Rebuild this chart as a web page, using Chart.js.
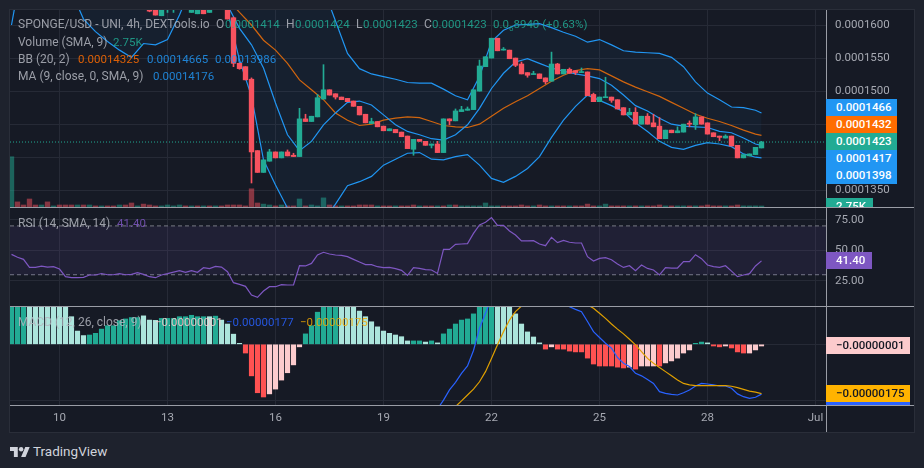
<!DOCTYPE html>
<html><head><meta charset="utf-8">
<script src="https://cdn.jsdelivr.net/npm/chart.js@4/dist/chart.umd.js"></script>
<style>
html,body{margin:0;padding:0;background:#1e222d;width:924px;height:468px;overflow:hidden;font-family:Roboto,sans-serif;}
#panel{position:absolute;left:9px;top:9px;width:904px;height:422px;background:#161a25;border:1px solid #2a2e39;}
canvas{position:absolute;left:10px;}
.sep{position:absolute;background:#9a9da6;}
.t{position:absolute;font-size:11.5px;line-height:14px;white-space:nowrap;color:#b2b5be;opacity:.85;z-index:5;}
.l{font-size:12px;}
.tag{position:absolute;left:826px;height:17px;line-height:17px;padding-left:10px;box-sizing:border-box;font-size:11.5px;font-weight:500;color:#fff;z-index:6;overflow:hidden;}
sub{font-size:8px;line-height:0;}
</style></head><body>
<div id="panel"></div>
<canvas id="cPrice" width="904" height="197" style="top:10px;width:904px;height:197px"></canvas>
<canvas id="cRsi" width="904" height="99" style="top:207px;width:904px;height:99px"></canvas>
<canvas id="cMacd" width="904" height="126" style="top:306px;width:904px;height:126px"></canvas>
<div class="sep" style="left:10px;top:207px;width:904px;height:1px"></div>
<div class="sep" style="left:10px;top:306px;width:904px;height:1px"></div>
<div class="sep" style="left:10px;top:405px;width:904px;height:1px"></div>
<div class="sep" style="left:826px;top:10px;width:1px;height:422px"></div>
<div id="overlay"></div>
<svg style="position:absolute;left:10px;top:445px" width="20" height="14" viewBox="0 3 36 20"><path fill="#d1d4dc" d="M14 22H7V11H0V4h14v18zM28 22h-8l7.5-18h8L28 22z"/><circle fill="#d1d4dc" cx="20" cy="8" r="4"/></svg>
<div style="position:absolute;left:33px;top:443px;font-size:13.5px;line-height:17px;color:#d1d4dc">TradingView</div>
<script>
// x positions are bar numbers (one bar = 4h)
const tickIdx=[8,26,44,62,80,98,116,134];
const tickLabels=['10','13','16','19','22','25','28','Jul'];
const priceTicks=[1600,1550,1500,1450,1400,1350];
const priceTicksHidden=[1450,1400];
const rsiTicks=[75,50,25];
const macdTicks=[0,-200];
// prices are in units of 0.0000001; candles start at bar 23 (earlier ones sit above the visible range)
const candleStart=23;
const open=[1640,1630,1614,1630,1630,null,null,1619,1617,1630,1619,null,null,
1640,1611,1542,1537,1518,1410,1377,1394,1408,1399,1408,1403,1401,1458,1454,1461,1488,1502,1496,1491,1489,1485,1477,1465,1451,1454,1447,1440,1442,1438,1432,1412,1427,1424,1418,1420,1407,1458,1455,1469,1471,1472,1500,1537,1550,1580,1562,1562,1550,1541,1528,1525,1526,1520,1515,1541,1526,1533,1531,1528,1529,1495,1484,1490,1491,1487,1475,1464,1468,1450,1462,1452,1447,1428,1441,1437,1438,1451,1449,1461,1452,1437,1432,1429,1432,1418,1399,1402,1404,1414];
const close=[1621,1615,1630,1632,1632,null,null,1630,1630,1617,1630,null,null,
1609,1542,1534,1517,1408,1377,1396,1408,1399,1408,1402,1401,1458,1454,1462,1490,1502,1494,1491,1487,1484,1477,1464,1452,1454,1446,1440,1443,1437,1431,1413,1427,1424,1418,1420,1407,1458,1455,1470,1472,1473,1502,1538,1552,1580,1561,1563,1549,1539,1526,1524,1526,1519,1514,1541,1526,1533,1527,1528,1529,1493,1484,1491,1491,1486,1473,1464,1468,1450,1462,1450,1446,1428,1441,1437,1440,1450,1450,1461,1450,1435,1431,1430,1432,1417,1399,1404,1405,1415,1423];
const high=[1640,1635,1630,1632,1632,null,null,1630,1630,1630,1630,null,null,
1640,1612,1543,1537,1520,1410,1396,1412,1408,1408,1411,1406,1474,1465,1462,1495,1540,1502,1496,1491,1489,1485,1477,1465,1459,1454,1447,1443,1442,1438,1432,1427,1427,1424,1420,1424,1458,1458,1473,1477,1476,1502,1547,1552,1580,1580,1566,1562,1550,1544,1528,1530,1526,1520,1559,1542,1533,1535,1531,1535,1529,1497,1491,1521,1491,1487,1475,1474,1475,1462,1466,1465,1460,1441,1441,1446,1450,1455,1466,1461,1452,1437,1432,1434,1432,1418,1404,1405,1415,1424];
const low=[1620,1615,1614,1619,1619,null,null,1619,1617,1617,1619,null,null,
1609,1537,1533,1517,1361,1377,1377,1394,1399,1399,1402,1401,1401,1454,1454,1461,1488,1494,1488,1487,1484,1477,1464,1452,1451,1446,1440,1440,1437,1431,1413,1403,1424,1418,1414,1407,1407,1449,1455,1469,1471,1472,1500,1537,1550,1561,1562,1549,1537,1526,1521,1525,1519,1511,1515,1526,1526,1527,1525,1528,1493,1484,1484,1490,1483,1473,1464,1464,1450,1450,1450,1446,1428,1428,1437,1437,1438,1446,1442,1450,1435,1431,1425,1429,1417,1399,1399,1402,1404,1414];
// volume in thousands and its colour: g rising, r falling
const volume=[138,14,5.5,22,5.5,5.5,14,3,5.5,5.5,5.5,5.5,5.5,5.5,3,3,3,3,5.5,5.5,11,3,8,5.5,3,3,5.5,3,5.5,3,3,3,3,3,3,3,5.5,5.5,5.5,3,50,11,8,5.5,3,5.5,3,3,22,3,5.5,3,25,5.5,3,3,3,3,5.5,5.5,5.5,3,3,3,3,3,3,5.5,3,3,3,3,3,5.5,5.5,3,3,3,3,11,3,3,3,3,3,5.5,3,3,5.5,3,3,3,3,3,3,3,8,3,3,8,3,3,3,3,3,3,3,3,5.5,3,3,3,3,3,3,3,5.5,3,3,3,3,5.5,3,3,3,2.75];
const volumeTone=['g','rrrr','g','r','g','rrr','g','r','g','r','g','rr','g','rr','g','rrr','gggg','r','g','r','g','r','g','rrrrrrr','gg','r','g','rr','g','r','ggg','rr','g','rrrrr','g','rr','g','rrr','g','rr','g','r','g','r','ggggggg','rrrrr','g','rr','g','rr','g','rrrr','gg','rrr','g','r','g','rrr','g','r','gg','r','g','rrrr','g','rr','gggg'].join('');
// Bollinger bands and moving average: values read at bars 0,2,4...124 and 125
const bbLower=[1600,1700,1710,1710,1700,1650,1609,1590,1575,1562,1551,1572,1570,1578,1615,1660,1680,1660,1622,1547,1492,1396,1358,1323,1295,1290,1305,1329,1357,1363,1371,1388,1397,1406,1407,1397,1396,1401,1404,1388,1368,1362,1371,1383,1401,1430,1456,1477,1494,1486,1478,1469,1452,1439,1424,1415,1412,1418,1422,1420,1416,1405,1400,1399];
const bbUpper=[1780,1780,1780,1780,1780,1780,1780,1780,1780,1780,1780,1780,1780,1780,1780,1780,1780,1780,1780,1780,1780,1780,1780,1780,1780,1710,1655,1606,1557,1534,1526,1522,1518,1513,1512,1512,1503,1493,1487,1522,1575,1592,1600,1601,1602,1596,1589,1583,1574,1578,1570,1561,1559,1558,1557,1551,1537,1514,1497,1487,1476,1475,1471,1467];
const bbBasis=[null,null,null,null,null,null,null,null,null,null,null,null,null,null,null,null,null,1690,1640,1619,1600,1577,1562,1542,1517,1502,1487,1467,1456,1448,1450,1456,1459,1461,1460,1454,1448,1446,1445,1450,1462,1474,1484,1493,1504,1515,1524,1531,1534,1532,1523,1514,1506,1499,1492,1483,1474,1465,1459,1454,1448,1441,1435,1433];
const ma9=[null,null,null,null,null,null,null,null,null,null,null,null,null,null,null,null,null,1680,1630,1595,1570,1535,1482,1434,1410,1424,1449,1467,1483,1485,1479,1464,1449,1439,1434,1428,1426,1434,1449,1474,1504,1527,1544,1549,1542,1535,1530,1526,1523,1519,1509,1494,1478,1470,1459,1450,1447,1446,1445,1439,1437,1429,1420,1418];
const rsi=[46.7,44.3,42.6,36,36,37,36.3,36.6,34.7,28.4,27.6,27.6,27.9,29.8,29.8,31,30,30,30.9,30,30.3,31.7,30.3,28.4,27.6,29.8,30.9,32.2,33.3,32,33.3,32,35.8,35,36.9,36.3,32.5,23.5,22.1,20.5,13.4,11.5,16.7,20.2,20.2,21.9,21.6,21.6,37.4,37.2,39.3,46.2,48.4,47,46.2,45.9,44.8,42.6,40.4,38.3,38.3,36.6,35.8,36,35,33.6,29.5,35.8,35.2,34.2,33.9,31.1,50.8,50.8,54.9,55.2,55.5,63.9,70.8,73,76.8,70.5,70.5,65.8,62.6,57.7,57.7,57.9,55.2,53.8,60.7,56.3,58.2,56.6,56,56,44.8,41.3,43.4,44,42.3,38.8,36,37.4,33.3,38,35.2,33.9,29.8,35.8,35.5,35.5,40.7,40.7,46.4,43.2,38,36.6,36,37.4,33,28.4,29.8,30.9,37.2,41.4];
const rsiBandTop=70, rsiBandBottom=30;
// MACD values are in units of 0.00000001
const macdHist=[150,150,150,150,150,150,150,150,150,150,98,47,31,33,39,54,66,66,84,90,95,95,101,86,85,92,92,92,98,98,103,98,98,98,100,86,72,36,2,-31,-112,-172,-187,-176,-159,-127,-101,-73,-9,37,66,114,150,150,150,150,150,150,118,98,80,62,47,39,33,27,12,12,12,8,12,5,37,54,72,86,90,108,150,150,150,150,150,150,108,72,44,26,5,-17,-9,-17,-17,-24,-27,-27,-49,-70,-77,-77,-77,-81,-84,-81,-88,-77,-77,-77,-77,-66,-59,-49,-31,-20,2,8,5,-6,-9,-6,-13,-27,-31,-31,-20,-6];
const macdTone=['ddd','llllllllll','ddddddddd','lll','dddddddd','l','d','llll','rrrr','pppppp','dddddd','llllllllllll','dd','l','d','l','ddddddddd','llllllll','r','p','rrrrrrrrrrrr','p','r','ppp','r','ppppp','dd','l','rr','p','rrr','ppp'].join('');
// MACD and signal lines start at bar 71 (earlier they are off the panel)
const macdStart=71;
const macdLine=[-230,-198,-162,-135,-103,-77,-22,57,110,163,220,260,290,300,300,290,280,260,240,210,180,152,133,124,116,81,45,24,4,-14,-47,-67,-79,-103,-112,-125,-139,-168,-174,-178,-180,-172,-162,-148,-139,-141,-144,-148,-148,-156,-176,-186,-192,-188,-177];
const signalLine=[-270,-245,-221,-201,-180,-159,-133,-97,-50,-2,45,86,116,136,160,180,190,195,190,185,175,165,155,148,140,128,110,92,72,54,37,18,-2,-26,-50,-67,-82,-97,-112,-127,-139,-144,-147,-147,-147,-147,-147,-147,-149,-154,-160,-166,-170,-175];
const signalStart=72;

const C={up:'#22ab94',down:'#f7525f',grid:'#262a36',text:'#a6a9b2',blue:'#2196f3',orange:'#d0650f',purple:'#7e57c2',
 volUp:'rgba(34,171,148,.5)',volDown:'rgba(247,82,95,.5)',
 histD:'#22ab94',histL:'#ace5dc',histR:'#ff5252',histP:'#fccbcd',macd:'#2962ff',signal:'#e0a000'};
const FONT={family:'Roboto',size:11.5};
const X_MIN=-0.25,X_MAX=135.75,AXIS_W=88;
const noPad=s=>{s.paddingTop=s.paddingBottom=s.paddingLeft=s.paddingRight=0;};

const xScale=(showLabels)=>({type:'linear',min:X_MIN,max:X_MAX,offset:false,
 grid:{color:C.grid,drawTicks:false,offset:false},border:{display:false},
 afterBuildTicks:s=>{s.ticks=tickIdx.map(v=>({value:v}));},
 afterFit:s=>{s.height=showLabels?27:0;noPad(s);},
 ticks:{display:showLabels,color:C.text,font:FONT,padding:6,maxRotation:0,autoSkip:false,
  callback:v=>tickLabels[tickIdx.indexOf(v)]}});
const yScale=(min,max,values,cb,show=true)=>({position:'right',min,max,
 grid:{color:C.grid,drawTicks:false},border:{display:false},
 afterBuildTicks:s=>{s.ticks=values.map(v=>({value:v}));},
 afterFit:s=>{s.width=AXIS_W;noPad(s);},
 ticks:{display:show,color:C.text,font:FONT,padding:9,callback:cb}});
const base={responsive:false,animation:false,devicePixelRatio:1,events:[],
 layout:{padding:0},plugins:{legend:{display:false},tooltip:{enabled:false}}};
const line=(data,color,extra={})=>Object.assign({type:'line',data,borderColor:color,borderWidth:1.2,pointRadius:0,fill:false,tension:0},extra);

// ---------- price ----------
const bars=open.map((o,k)=>({i:k+candleStart,o,h:high[k],l:low[k],c:close[k]})).filter(b=>b.o!==null);
const bbAt=k=>k<63?k*2:125;
const pts=arr=>arr.map((y,k)=>({x:bbAt(k),y})).filter(p=>p.y!==null);
const lastClose=close[close.length-1];
new Chart(document.getElementById('cPrice'),{type:'bar',data:{datasets:[
 {data:volume.map((y,i)=>({x:i,y})),yAxisID:'yVol',backgroundColor:volumeTone.split('').map(t=>t==='g'?C.volUp:C.volDown),barThickness:4.7,grouped:false,order:20},
 line(pts(bbUpper),C.blue,{fill:'+1',backgroundColor:'rgba(33,150,243,.05)',order:8}),
 line(pts(bbLower),C.blue,{order:8}),
 line(pts(bbBasis),C.orange,{order:7}),
 line(pts(ma9),C.blue,{order:6}),
 line([{x:X_MIN,y:lastClose},{x:X_MAX,y:lastClose}],C.up,{borderWidth:1,borderDash:[1,2],order:5}),
 {data:bars.map(b=>({x:b.i,y:[b.l,b.h]})),backgroundColor:bars.map(b=>b.c>=b.o?C.up:C.down),barThickness:1,grouped:false,order:2},
 {data:bars.map(b=>({x:b.i,y:[b.o,b.c]})),backgroundColor:bars.map(b=>b.c>=b.o?C.up:C.down),barThickness:4.7,minBarLength:1,grouped:false,order:1}
]},options:{...base,scales:{x:xScale(false),
 y:yScale(1324.7,1622.7,priceTicks,v=>priceTicksHidden.includes(v)?'':(v*1e-7).toFixed(7)),
 yVol:{display:false,min:0,max:541}}}});

// ---------- RSI ----------
new Chart(document.getElementById('cRsi'),{type:'line',data:{datasets:[
 line([{x:X_MIN,y:rsiBandTop},{x:X_MAX,y:rsiBandTop}],'#787b86',{borderWidth:1,borderDash:[4,3],fill:'+1',backgroundColor:'rgba(126,87,194,.1)',order:5}),
 line([{x:X_MIN,y:rsiBandBottom},{x:X_MAX,y:rsiBandBottom}],'#787b86',{borderWidth:1,borderDash:[4,3],order:5}),
 line(rsi.map((y,i)=>({x:i,y})),C.purple,{borderWidth:1.2,order:1})
]},options:{...base,scales:{x:xScale(false),y:yScale(4.4,85.5,rsiTicks,v=>v.toFixed(2))}}});

// ---------- MACD ----------
const toneColor={d:C.histD,l:C.histL,r:C.histR,p:C.histP};
new Chart(document.getElementById('cMacd'),{type:'bar',data:{datasets:[
 {data:macdHist.map((y,i)=>({x:i,y})),backgroundColor:macdTone.split('').map(t=>toneColor[t]),barThickness:4.5,minBarLength:1,grouped:false,order:5},
 line(macdLine.map((y,k)=>({x:k+macdStart,y})),C.macd,{order:2}),
 line(signalLine.map((y,k)=>({x:k+signalStart,y})),C.signal,{order:1})
]},options:{...base,scales:{x:xScale(true),y:yScale(-215.5,136,macdTicks,()=>'',false)}}});

// ---------- legends and price tags ----------
const ov=document.getElementById('overlay');
const G='#22ab94',BL='#2196f3',OR='#ff6d00';
const texts=[
 [18,17,'SPONGE/USD - UNI, 4h, DEXTools.io'],[216,17,'O'],[225,17,'0.0001414',G],[286,17,'H'],[295,17,'0.0001424',G],[356,17,'L'],[363,17,'0.0001423',G],[424,17,'C'],[432,17,'0.0001423',G],[493,17,'0.0<sub>6</sub>8940 (+0.63%)',G],
 [18,35,'Volume (SMA, 9)'],[113,35,'2.75K',G],
 [18,52,'BB (20, 2)'],[78,52,'0.00014325',OR],[147,52,'0.00014665',BL],[215,52,'0.00013986',BL],
 [18,69,'MA (9, close, 0, SMA, 9)'],[153,69,'0.00014176',BL],
 [18,216,'RSI (14, SMA, 14)'],[117,216,'41.40',C.purple],
 [18,315,'MACD (12, 26, close, 9)'],[155,315,'\u22120.00000001','#fccbcd'],[226,315,'\u22120.00000177','#2962ff'],[300,315,'\u22120.00000175','#f2a900']
];
texts.forEach(([x,y,s,c])=>{const d=document.createElement('div');d.className=c?'t':'t l';d.style.left=x+'px';d.style.top=y+'px';d.innerHTML=s;if(c)d.style.color=c;ov.appendChild(d);});
const tags=[
 [99,71,17,'0.0001466',BL,'#fff'],[116,71,17,'0.0001432','#ff6d00','#fff'],[133,71,17,'0.0001423',G,'#fff'],[150,71,17,'0.0001417',BL,'#fff'],[167,71,17,'0.0001398',BL,'#fff'],
 [198,47,9,'2.75K',G,'#fff'],[252,46,17,'41.40','#7e57c2','#fff'],
 [337,84,17,'\u22120.00000001','#fccbcd','#131722'],[385,84,17,'\u22120.00000175','#ffb300','#131722'],[402,84,3,'','#2962ff','#fff']
];
tags.forEach(([y,w,h,s,bg,c])=>{const d=document.createElement('div');d.className='tag';d.style.top=y+'px';d.style.width=w+'px';d.style.height=h+'px';d.style.background=bg;d.style.color=c;d.textContent=s;ov.appendChild(d);});
</script>
</body></html>
